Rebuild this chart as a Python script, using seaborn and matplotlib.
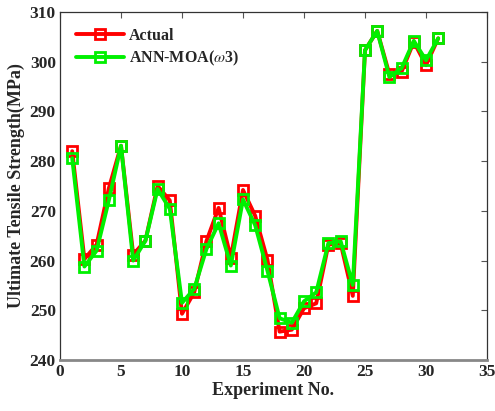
import matplotlib
matplotlib.use("Agg")
import matplotlib.pyplot as plt
import seaborn as sns
import pandas as pd

experiments = list(range(1, 32))
actual = [282.0, 260.3, 263.2, 274.5, 283.1, 261.2, 264.0, 275.0, 272.1, 249.3,
          253.6, 263.9, 270.6, 260.6, 274.2, 269.0, 260.2, 245.7, 246.1, 250.4,
          251.4, 263.2, 263.5, 252.9, 302.3, 306.2, 297.5, 298.0, 304.0, 299.3, 304.7]
predicted = [280.6, 258.8, 262.0, 272.1, 283.1, 260.0, 264.0, 274.4, 270.4, 251.5,
             254.3, 262.3, 267.5, 259.0, 272.3, 267.1, 258.0, 248.4, 247.5, 251.8,
             253.6, 263.5, 263.9, 255.1, 302.3, 306.2, 296.9, 298.7, 304.2, 300.3, 304.7]
series_names = ["Actual", r"ANN-MOA($\omega$3)"]
series_colors = ["#ff0000", "#00f000"]

df = pd.DataFrame({
    "x": experiments * 2,
    "y": actual + predicted,
    "series": [series_names[0]] * 31 + [series_names[1]] * 31,
})

sns.set_style("white")
plt.rcParams["font.family"] = ["Liberation Serif", "DejaVu Serif"]
plt.rcParams["mathtext.fontset"] = "stix"

fig = plt.figure(figsize=(4.95, 4.11), dpi=100)
ax = fig.add_axes([60 / 495, 1 - 360 / 411, 427 / 495, 348 / 411])

sns.lineplot(data=df, x="x", y="y", hue="series", palette=series_colors,
             marker="s", markersize=7, markerfacecolor="none", markeredgewidth=2,
             linewidth=2.8, ax=ax, legend=False)
lines = ax.lines[:2]
for line, c, name in zip(lines, series_colors, series_names):
    line.set_markeredgecolor(c)
    line.set_label(name)

ax.set_xlim(0, 35)
ax.set_ylim(240, 310)
ax.set_xticks(range(0, 36, 5))
ax.set_yticks(range(240, 311, 10))
ax.tick_params(direction="in", top=True, right=True, length=4, width=0.8,
               color="#555555", labelsize=12.5, pad=3)
for lab in ax.get_xticklabels() + ax.get_yticklabels():
    lab.set_fontweight("bold")
for s in ["left", "top", "right"]:
    ax.spines[s].set_color("#333333")
    ax.spines[s].set_linewidth(0.9)
ax.spines["bottom"].set_color("#888888")
ax.spines["bottom"].set_linewidth(2)

ax.set_xlabel("Experiment No.", fontsize=13, fontweight="bold", labelpad=1)
ax.set_ylabel("Ultimate Tensile Strength(MPa)", fontsize=13, fontweight="bold", labelpad=3)

leg = ax.legend(handles=lines, loc="upper left", frameon=False, fontsize=11.5,
                handlelength=3.0, borderaxespad=0.6, labelspacing=0.3,
                handletextpad=0.3, numpoints=1)
for t in leg.get_texts():
    t.set_fontweight("bold")

fig.savefig("out.png", dpi=100)
